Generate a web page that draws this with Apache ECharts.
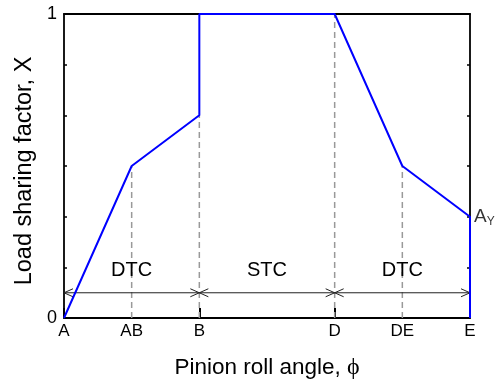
<!DOCTYPE html>
<html><head><meta charset="utf-8">
<script src="https://cdn.jsdelivr.net/npm/echarts@6/dist/echarts.min.js"></script>
<style>html,body{margin:0;padding:0;background:#fff}#c{width:499px;height:385px}</style>
</head><body><div id="c"></div>
<script>
const tickNames = ['A', 'AB', 'B', 'D', 'DE', 'E'];
const tickValues = [0, 0.5, 1, 2, 2.5, 3];
const majorTickValues = [0, 1, 2, 3];
const yTickValues = [0, 0.1667, 0.3333, 0.5, 0.6667, 0.8333, 1];
const yLabelValues = [0, 1];
const curveX = [0, 0.5, 1, 1, 2, 2.5, 3, 3];
const curveY = [0, 0.5, 0.667, 1, 1, 0.5, 0.333, 0];
const guideX = [0.5, 1, 2, 2.5];
const guideTop = [0.5, 0.667, 1, 0.5];
const zoneFrom = [0, 1, 2];
const zoneTo = [1, 2, 3];
const zoneNames = ['DTC', 'STC', 'DTC'];
const arrowLevel = 0.083;
const zoneLabelLevel = 0.157;
const endLabelPoint = [3, 0.333];

const FONT = 'Liberation Sans';
const chart = echarts.init(document.getElementById('c'), null, { renderer: 'canvas' });

function nameOf(v) {
  for (let i = 0; i < tickValues.length; i++) if (Math.abs(tickValues[i] - v) < 1e-6) return tickNames[i];
  return '';
}

const yAxisBase = {
  type: 'value', min: 0, max: 1,
  axisLine: { show: true, onZero: false, lineStyle: { color: '#000', width: 1.8 } },
  axisTick: { show: true, inside: true, length: 3, customValues: yTickValues, lineStyle: { color: '#000', width: 1.5 } },
  splitLine: { show: false }
};

const option = {
  animation: false,
  backgroundColor: '#fff',
  grid: { left: 64, top: 14, width: 406, height: 304, containLabel: false },
  xAxis: [{
    type: 'value', min: 0, max: 3, position: 'bottom',
    axisLine: { show: true, onZero: false, lineStyle: { color: '#000', width: 1.8 } },
    axisTick: { show: true, inside: true, length: 10, customValues: majorTickValues, lineStyle: { color: '#000', width: 2 } },
    axisLabel: { show: true, customValues: tickValues, formatter: nameOf, color: '#000', fontSize: 17, fontFamily: FONT, margin: 5 },
    splitLine: { show: false },
    name: 'Pinion roll angle, {p|ϕ}', nameLocation: 'middle', nameGap: 38,
    nameTextStyle: { color: '#000', fontSize: 22.5, fontFamily: FONT,
      rich: { p: { fontFamily: 'Liberation Serif', fontSize: 24, color: '#000' } } }
  }, {
    type: 'value', min: 0, max: 3, position: 'top',
    axisLine: { show: true, onZero: false, lineStyle: { color: '#000', width: 1.8 } },
    axisTick: { show: false }, axisLabel: { show: false }, splitLine: { show: false }
  }],
  yAxis: [Object.assign({}, yAxisBase, {
    position: 'left',
    axisLabel: { show: true, customValues: yLabelValues, color: '#000', fontSize: 18, fontFamily: FONT, margin: 7 },
    name: 'Load sharing factor, X', nameLocation: 'middle', nameGap: 21,
    nameTextStyle: { color: '#000', fontSize: 23.5, fontFamily: FONT, padding: [0, 10, 0, 0] }
  }), Object.assign({}, yAxisBase, {
    position: 'right', axisLabel: { show: false }
  })],
  series: [{
    type: 'custom', xAxisIndex: 0, yAxisIndex: 0, z: 2, silent: true,
    encode: { x: 0, y: 1 },
    data: guideX.map((x, i) => [x, guideTop[i]]),
    renderItem: function (params, api) {
      const p0 = api.coord([api.value(0), 0]);
      const p1 = api.coord([api.value(0), api.value(1)]);
      return { type: 'line', shape: { x1: p0[0], y1: p0[1], x2: p1[0], y2: p1[1] },
        style: { stroke: '#999', lineWidth: 1.5, lineDash: [6, 4] } };
    }
  }, {
    type: 'custom', xAxisIndex: 0, yAxisIndex: 0, z: 3, silent: true, clip: false,
    encode: { x: [0, 1], y: 2 },
    data: zoneFrom.map((f, i) => [f, zoneTo[i], arrowLevel, zoneNames[i]]),
    renderItem: function (params, api) {
      const a = api.coord([api.value(0), api.value(2)]);
      const b = api.coord([api.value(1), api.value(2)]);
      const t = api.coord([(api.value(0) + api.value(1)) / 2, zoneLabelLevel]);
      const L = 9, H = 4;
      const st = { stroke: '#222', lineWidth: 1, fill: null };
      return { type: 'group', children: [
        { type: 'line', shape: { x1: a[0], y1: a[1], x2: b[0], y2: b[1] }, style: st },
        { type: 'polyline', shape: { points: [[a[0] + L, a[1] - H], [a[0], a[1]], [a[0] + L, a[1] + H]] }, style: st },
        { type: 'polyline', shape: { points: [[b[0] - L, b[1] - H], [b[0], b[1]], [b[0] - L, b[1] + H]] }, style: st },
        { type: 'text', style: { text: zoneNames[params.dataIndex], x: t[0], y: t[1], align: 'center', verticalAlign: 'middle',
          fontSize: 20, fontFamily: FONT, fill: '#000' } }
      ] };
    }
  }, {
    type: 'line', xAxisIndex: 0, yAxisIndex: 0, z: 5, clip: false, silent: true,
    data: curveX.map((x, i) => [x, curveY[i]]),
    symbol: 'none', lineStyle: { color: '#0000ff', width: 2 }
  }, {
    type: 'scatter', xAxisIndex: 0, yAxisIndex: 0, z: 6, silent: true,
    data: [endLabelPoint], symbolSize: 0,
    label: { show: true, position: 'right', distance: 4, formatter: '{a|A}{s|Y}',
      rich: { a: { fontSize: 19, fontFamily: FONT, color: '#000' },
              s: { fontSize: 12, fontFamily: FONT, color: '#000', padding: [10, 0, 0, 0] } } }
  }]
};
chart.setOption(option);
</script></body></html>
